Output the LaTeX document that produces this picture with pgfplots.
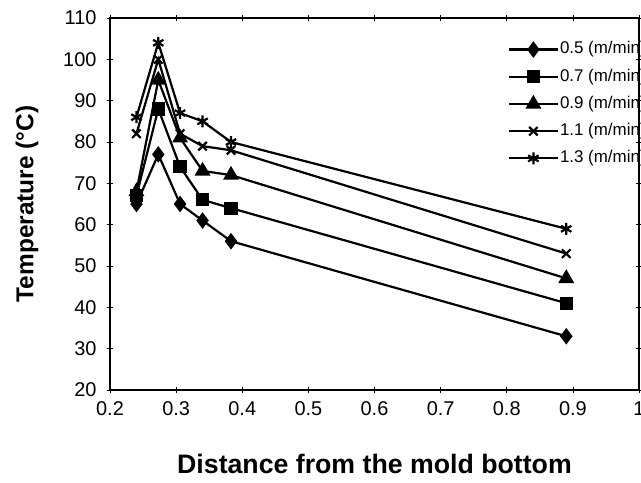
\documentclass[border=0pt]{standalone}
\usepackage{fontspec}
\setmainfont{Liberation Sans}
\usepackage{pgfplots}
\pgfplotsset{compat=1.18}
\begin{document}
\begin{tikzpicture}[x=1bp,y=1bp]
\begin{axis}[
  at={(0,0)}, anchor=south west,
  scale only axis,
  width=529bp, height=372bp,
  xmin=0.2, xmax=1.0, ymin=20, ymax=110,
  xtick={0.2,0.3,...,1.0}, ytick={20,30,...,110},
  xticklabels={0.2,0.3,0.4,0.5,0.6,0.7,0.8,0.9,1},
  /pgf/number format/assume math mode=true,
  ticklabel style={font=\fontsize{20}{24}\selectfont},
  xticklabel style={yshift=-5bp},
  yticklabel style={xshift=-7bp},
  tick align=center, major tick length=6bp,
  tick style={black, line width=0.6bp},
  axis line style={line width=1.3bp},
  xlabel={Distance from the mold bottom},
  ylabel={Temperature (°C)},
  xlabel style={font=\bfseries\fontsize{26.8}{30}\selectfont, yshift=-32bp},
  ylabel style={font=\bfseries\fontsize{24.5}{28}\selectfont, yshift=18bp},
  legend style={draw=none, fill=none, inner sep=0pt, outer sep=0pt,
    at={(0.752,0.94)}, anchor=north west,
    font=\fontsize{17}{20}\selectfont,
    nodes={text height=12.5bp, text depth=4bp, inner sep=1bp},
    row sep=8.7bp},
  legend cell align=left,
  legend image code/.code={\draw[mark repeat=2,mark phase=2] plot coordinates {(0bp,0bp)(24.5bp,0bp)(49bp,0bp)};},
]
\addplot[black, line width=2.2bp, mark=diamond*, mark size=6.5bp, mark options={solid, fill=black}] coordinates {(0.24,65)(0.273,77)(0.306,65)(0.34,61)(0.383,56)(0.89,33)};
\addlegendentry{0.5 (m/min)}
\addplot[black, line width=2.2bp, mark=square*, mark size=5.5bp, mark options={solid, fill=black}] coordinates {(0.24,67)(0.273,88)(0.306,74)(0.34,66)(0.383,64)(0.89,41)};
\addlegendentry{0.7 (m/min)}
\addplot[black, line width=2.2bp, mark=triangle*, mark size=7bp, mark options={solid, fill=black}] coordinates {(0.24,68)(0.273,95)(0.306,81)(0.34,73)(0.383,72)(0.89,47)};
\addlegendentry{0.9 (m/min)}
\addplot[black, line width=2.2bp, mark=x, mark size=6bp, mark options={solid, line width=2.2bp}] coordinates {(0.24,82)(0.273,100)(0.306,82)(0.34,79)(0.383,78)(0.89,53)};
\addlegendentry{1.1 (m/min)}
\addplot[black, line width=2.2bp, mark=asterisk, mark size=6bp, mark options={solid, line width=2.2bp}] coordinates {(0.24,86)(0.273,104)(0.306,87)(0.34,85)(0.383,80)(0.89,59)};
\addlegendentry{1.3 (m/min)}
\end{axis}
\pgfresetboundingbox
\useasboundingbox (-110bp,-93bp) rectangle (531bp,390bp);
\end{tikzpicture}
\end{document}
